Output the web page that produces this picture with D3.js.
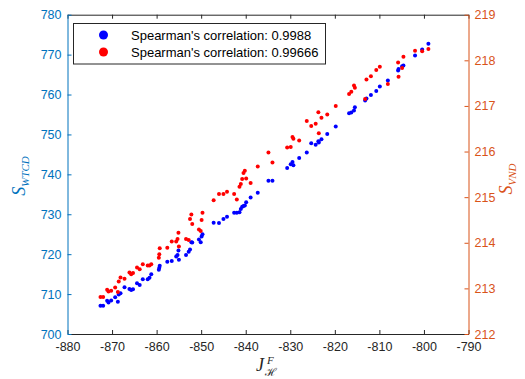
<!DOCTYPE html>
<html>
<head>
<meta charset="utf-8">
<script src="https://cdn.jsdelivr.net/npm/d3@7"></script>
<style>
  body { margin: 0; background: #fff; }
  svg { display: block; }
  .tick text { font-family: "Liberation Sans", Arial, sans-serif; font-size: 12.5px; }
</style>
</head>
<body>
<svg id="chart" width="525" height="379"></svg>
<script>
// J_H^F for each sample (shared by both series)
var jValues = [
  -872.6, -872.0, -871.1, -870.8, -870.2, -869.3, -868.7, -868.5, -868.1, -867.2,
  -866.1, -865.7, -865.3, -864.4, -863.8, -863.1, -862.0, -861.6, -861.2, -859.5,
  -859.4, -859.3, -857.6, -856.6, -855.6, -855.3, -855.1, -855.0, -853.4, -852.8,
  -852.5, -852.2, -852.0, -850.5, -850.1, -849.9, -849.7, -847.2, -846.0, -845.0,
  -844.2, -842.6, -842.0, -841.4, -841.1, -840.8, -840.5, -840.2, -839.9, -838.9,
  -837.3, -834.9, -834.0, -830.7, -829.9, -829.5, -829.3, -828.0, -826.3, -825.3,
  -824.3, -823.7, -823.6, -823.0, -821.7, -819.8, -816.8, -816.3, -815.7, -815.5,
  -813.2, -812.9, -811.9, -810.7, -809.9, -808.1, -805.8, -805.7, -804.9, -804.6,
  -802.0, -800.4, -799.0
];
// S_WTCD (left axis, blue)
var sWtcd = [
  707.1, 707.1, 708.3, 707.9, 708.4, 709.2, 708.1, 709.9, 710.2, 711.7,
  711.3, 711.0, 711.2, 712.7, 712.3, 713.7, 713.7, 714.1, 715.0, 716.1,
  716.6, 717.1, 718.1, 718.3, 719.4, 719.8, 720.9, 718.6, 719.8, 720.6,
  721.2, 723.0, 722.9, 723.7, 723.0, 724.4, 725.0, 727.9, 727.8, 728.8,
  729.4, 730.4, 730.4, 730.5, 731.3, 731.9, 732.1, 732.2, 733.0, 734.2,
  735.4, 738.4, 738.4, 741.6, 742.5, 743.1, 742.3, 744.1, 745.5, 747.8,
  747.4, 748.3, 748.0, 748.8, 750.1, 752.0, 755.3, 755.5, 756.0, 756.8,
  758.5, 759.0, 759.9, 760.9, 762.0, 763.5, 766.0, 766.4, 767.1, 767.3,
  769.8, 771.3, 772.7
];
// S_VND (right axis, red)
var sVnd = [
  212.81, 212.81, 212.97, 212.93, 212.95, 213.02, 212.92, 213.15, 213.24, 213.21,
  213.35, 213.31, 213.34, 213.46, 213.42, 213.53, 213.50, 213.50, 213.53, 213.67,
  213.75, 213.88, 213.89, 214.03, 214.03, 214.08, 214.22, 213.92, 214.08, 214.06,
  214.52, 214.62, 214.41, 214.29, 214.26, 214.50, 214.66, 214.93, 215.07, 215.07,
  215.12, 215.07, 214.95, 215.23, 215.29, 215.40, 215.53, 215.58, 215.41, 215.31,
  215.67, 215.98, 215.76, 216.09, 216.10, 216.32, 216.28, 216.24, 216.67, 216.56,
  216.61, 216.86, 216.40, 216.74, 216.81, 217.00, 217.26, 217.31, 217.45, 217.40,
  217.15, 217.58, 217.65, 217.79, 217.86, 217.48, 217.95, 217.64, 217.83, 218.08,
  218.21, 218.20, 218.25
];

var xTicks = [-880, -870, -860, -850, -840, -830, -820, -810, -800, -790];
var leftTicks = [700, 710, 720, 730, 740, 750, 760, 770, 780];
var rightTicks = [212, 213, 214, 215, 216, 217, 218, 219];
var legendLabels = ["Spearman's correlation: 0.9988", "Spearman's correlation: 0.99666"];

var blueAxis = "#0072BD", orangeAxis = "#D95319", dark = "#262626";
var plotL = 67.5, plotR = 468.5, plotT = 14.7, plotB = 334;

var svg = d3.select("#chart");

var x = d3.scaleLinear().domain([-880, -790]).range([plotL, plotR]);
var yL = d3.scaleLinear().domain([700, 780]).range([plotB, plotT]);
var yR = d3.scaleLinear().domain([212, 219]).range([plotB, plotT]);

// top box line with ticks
svg.append("g")
    .attr("transform", "translate(0," + plotT + ")")
    .call(d3.axisTop(x).tickValues(xTicks).tickSizeInner(-4).tickSizeOuter(0).tickFormat(""))
    .call(g => g.selectAll("path,line").attr("stroke", dark));

svg.append("g")
    .attr("transform", "translate(0," + plotB + ")")
    .call(d3.axisBottom(x).tickValues(xTicks).tickSizeInner(-4).tickSizeOuter(0).tickPadding(8)
        .tickFormat(d => String(d)))
    .call(g => g.selectAll("path,line").attr("stroke", dark))
    .call(g => g.selectAll("text").attr("fill", dark));

svg.append("g")
    .attr("transform", "translate(" + plotL + ",0)")
    .call(d3.axisLeft(yL).tickValues(leftTicks).tickSizeInner(-4).tickSizeOuter(0).tickPadding(6)
        .tickFormat(d => String(d)))
    .call(g => g.selectAll("path,line").attr("stroke", blueAxis))
    .call(g => g.selectAll("text").attr("fill", blueAxis));

svg.append("g")
    .attr("transform", "translate(" + plotR + ",0)")
    .call(d3.axisRight(yR).tickValues(rightTicks).tickSizeInner(-4).tickSizeOuter(0).tickPadding(6)
        .tickFormat(d => String(d)))
    .call(g => g.selectAll("path,line").attr("stroke", orangeAxis))
    .call(g => g.selectAll("text").attr("fill", orangeAxis));

// points
var pts = jValues.map((j, i) => ({j: j, w: sWtcd[i], v: sVnd[i]}));

svg.append("g").selectAll("circle")
    .data(pts)
    .enter().append("circle")
    .attr("cx", d => x(d.j))
    .attr("cy", d => yL(d.w))
    .attr("r", 2)
    .attr("fill", "#0000ff");

svg.append("g").selectAll("circle")
    .data(pts)
    .enter().append("circle")
    .attr("cx", d => x(d.j))
    .attr("cy", d => yR(d.v))
    .attr("r", 2)
    .attr("fill", "#ff0000");

// legend
var lg = svg.append("g");
lg.append("rect")
    .attr("x", 73.5).attr("y", 23.5)
    .attr("width", 252).attr("height", 40.5)
    .attr("fill", "#fff").attr("stroke", dark).attr("stroke-width", 1);
["#0000ff", "#ff0000"].forEach(function(c, i) {
    lg.append("circle").attr("cx", 103.5).attr("cy", 35 + i * 17).attr("r", 4.5).attr("fill", c);
    lg.append("text")
        .attr("x", 131).attr("y", 39.5 + i * 17)
        .style("font-family", "Liberation Sans, Arial, sans-serif")
        .style("font-size", "13px")
        .attr("fill", "#000")
        .text(legendLabels[i]);
});

// axis labels
var serif = "'Liberation Serif', 'DejaVu Serif', serif";
var ll = svg.append("text")
    .attr("transform", "translate(25,176) rotate(-90)")
    .attr("text-anchor", "middle")
    .attr("fill", blueAxis)
    .style("font-family", serif).style("font-style", "italic");
ll.append("tspan").style("font-size", "18px").text("S");
ll.append("tspan").style("font-size", "11px").attr("dy", 4).text("WTCD");

var rl = svg.append("text")
    .attr("transform", "translate(512,179) rotate(-90)")
    .attr("text-anchor", "middle")
    .attr("fill", orangeAxis)
    .style("font-family", serif).style("font-style", "italic");
rl.append("tspan").style("font-size", "18px").text("S");
rl.append("tspan").style("font-size", "11px").attr("dy", 4).text("VND");

var xl = svg.append("g").attr("fill", dark).style("font-family", serif).style("font-style", "italic");
xl.append("text").attr("x", 256).attr("y", 371).style("font-size", "18px").text("J");
xl.append("text").attr("x", 267).attr("y", 364).style("font-size", "11px").text("F");
xl.append("text").attr("x", 265).attr("y", 376).style("font-size", "11px").style("font-style", "normal").text("ℋ");
</script>
</body>
</html>
